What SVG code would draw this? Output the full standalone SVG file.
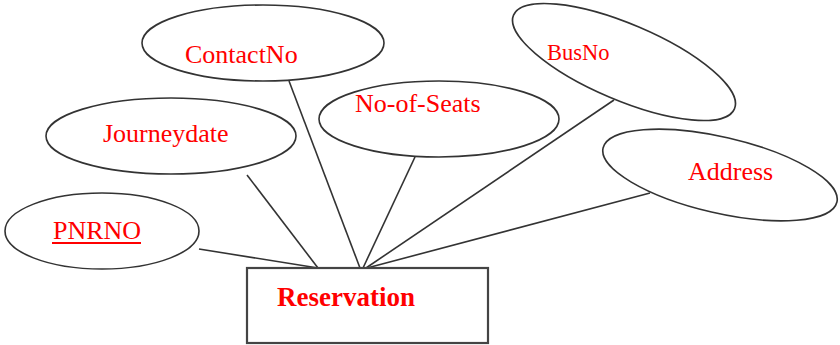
<svg xmlns="http://www.w3.org/2000/svg" width="840" height="345" viewBox="0 0 840 345">
<style>
.attr{fill:#fff;stroke:#333;stroke-width:1.6}
.lbl{font-family:"Liberation Serif","Times New Roman",serif;font-size:26px;fill:#ff0000}
.conn line{stroke:#333;stroke-width:1.6}
.ent{fill:#fff;stroke:#444;stroke-width:2.2}
</style>
<rect width="840" height="345" fill="#fff"/>
<g id="connectors" class="conn">
<line x1="289" y1="81" x2="360" y2="268"/>
<line x1="247" y1="175" x2="318" y2="268"/>
<line x1="199" y1="249" x2="318" y2="268"/>
<line x1="415" y1="157" x2="363" y2="268"/>
<line x1="614" y1="100" x2="366" y2="268"/>
<line x1="650" y1="193" x2="367" y2="268"/>
</g>
<g id="ContactNo">
<ellipse class="attr" cx="263" cy="43" rx="121" ry="38"/>
<text class="lbl" x="185" y="63">ContactNo</text>
</g>
<g id="Journeydate">
<ellipse class="attr" cx="171" cy="136" rx="125" ry="38"/>
<text class="lbl" x="103" y="142">Journeydate</text>
</g>
<g id="No-of-Seats">
<ellipse class="attr" cx="439" cy="119" rx="120" ry="38"/>
<text class="lbl" x="355" y="112">No-of-Seats</text>
</g>
<g id="PNRNO">
<ellipse class="attr" cx="102" cy="231" rx="97" ry="38"/>
<text class="lbl" x="53" y="239">PNRNO</text>
<line x1="52" y1="243" x2="141" y2="243" stroke="#ff0000" stroke-width="2"/>
</g>
<g id="BusNo">
<ellipse class="attr" cx="0" cy="0" rx="120" ry="38" transform="translate(624 62) rotate(23)"/>
<text class="lbl" x="547" y="60" style="font-size:22.5px">BusNo</text>
</g>
<g id="Address">
<ellipse class="attr" cx="0" cy="0" rx="120" ry="38" transform="translate(720 175) rotate(13)"/>
<text class="lbl" x="688" y="180">Address</text>
</g>
<g id="Reservation">
<rect class="ent" x="247" y="268" width="241" height="75"/>
<text class="lbl" x="277" y="306" style="font-size:27px;font-weight:bold">Reservation</text>
</g>
</svg>
